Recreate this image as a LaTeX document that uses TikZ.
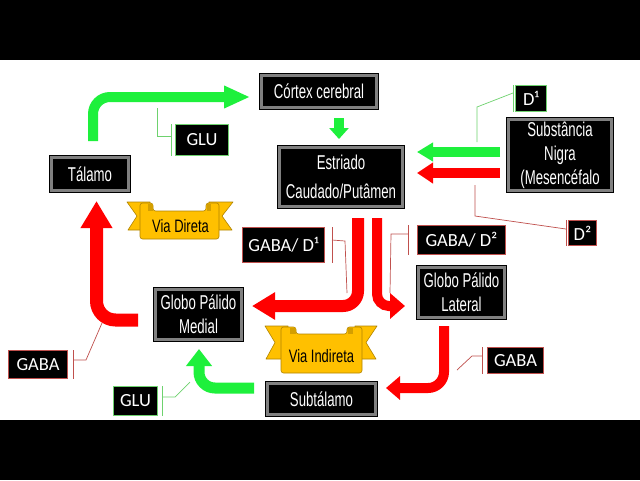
\documentclass[tikz,border=0pt]{standalone}
\usepackage{fontspec}
\usetikzlibrary{arrows.meta,calc}
\newfontfamily\nodefont[FakeStretch=0.66]{Liberation Sans}
\newfontfamily\banfont[FakeStretch=0.72]{Liberation Sans}
\newfontfamily\labfont{Carlito}
\definecolor{gr}{RGB}{30,240,60}
\definecolor{rd}{RGB}{255,0,0}
\definecolor{lgreen}{RGB}{110,210,110}
\definecolor{lred}{RGB}{192,80,77}
\definecolor{gold}{RGB}{255,192,0}
\definecolor{golddk}{RGB}{176,132,0}
\begin{document}
\begin{tikzpicture}[x=1pt,y=-1pt,
  bev/.style={fill=black, draw=black, double=black!50, double distance=3pt,
    line width=0.6pt, text=white, outer sep=2.1pt,
    font=\nodefont\fontsize{20}{24}\selectfont, align=center, inner sep=0pt},
  lab/.style={fill=black, text=white, font=\labfont\fontsize{18.5}{22}\selectfont,
    inner sep=0pt, line width=0.8pt},
  labg/.style={lab, draw=lgreen},
  labr/.style={lab, draw=lred},
  conng/.style={draw=lgreen, line width=0.7pt},
  connr/.style={draw=lred, line width=0.7pt},
  bn/.style={fill=gold, draw=golddk, line width=0.6pt, line join=round},
  bnroll/.style={fill=golddk!55!gold},
  bant/.style={font=\banfont\fontsize{18}{22}\selectfont, text=black, inner sep=0pt},
  garr/.style={draw=gr, line width=#1, line cap=butt},
  rarr/.style={draw=rd, line width=#1, line cap=butt}
]
\useasboundingbox (0,0) rectangle (640,480);
\fill[black] (0,0) rectangle (640,60);
\fill[white] (0,60) rectangle (640,420);
\fill[black] (0,420) rectangle (640,480);

% main nodes
\node[bev, minimum width=115.8pt, minimum height=32.8pt] (ctx) at (319,91.5) {Córtex cerebral};
\node[bev, minimum width=77.8pt, minimum height=33.8pt] (tal) at (90,174) {Tálamo};
\node[bev, minimum width=123.8pt, minimum height=59.8pt] (est) at (341,177) {Estriado\\[5pt]Caudado/Putâmen};
\node[bev, minimum width=103.8pt, minimum height=71.8pt] (sn) at (560,155) {Substância\\Nigra\\(Mesencéfalo};
\node[bev, minimum width=86.8pt, minimum height=50.8pt] (gpm) at (198.5,314.5) {Globo Pálido\\Medial};
\node[bev, minimum width=86.8pt, minimum height=50.8pt] (gpl) at (461.5,292.5) {Globo Pálido\\Lateral};
\node[bev, minimum width=108.8pt, minimum height=31.8pt] (sub) at (321.5,399) {Subtálamo};

% labels
\node[labg, minimum width=53.2pt, minimum height=31.2pt] (glu1) at (202,140) {GLU};
\node[labg, minimum width=31.2pt, minimum height=26.2pt] (d1) at (531,98.5) {D¹};
\node[labr, minimum width=28.2pt, minimum height=25.2pt] (d2) at (582.5,233) {D²};
\node[labr, minimum width=82.2pt, minimum height=35.2pt] (gabad1) at (283.5,245) {GABA/ D¹};
\node[labr, minimum width=88.2pt, minimum height=29.2pt] (gabad2) at (461.5,240) {GABA/ D²};
\node[labr, minimum width=59.2pt, minimum height=28.2pt] (gabal) at (38,364.5) {GABA};
\node[labg, minimum width=44.2pt, minimum height=29.2pt] (glu2) at (135.5,401) {GLU};
\node[labr, minimum width=56.2pt, minimum height=26.2pt] (gabar) at (515.5,360.5) {GABA};

% label connectors (tee + line)
\draw[conng] ([xshift=-4pt]glu1.north west) -- ([xshift=-4pt]glu1.south west);
\coordinate (cg1) at (157,108);
\draw[conng] ([shift={(-4,-4)}]glu1.west) -| (cg1);

\draw[conng] ([xshift=-2pt]d1.north west) -- ([xshift=-2pt]d1.south west);
\draw[conng] ([shift={(-2,-5.5)}]d1.west) -- ++(-36,14) -- ++(0,35);

\draw[connr] ([xshift=-2pt]d2.north west) -- ([xshift=-2pt]d2.south west);
\draw[connr] ([shift={(-2,-4)}]d2.west) -- ++(-91,-13) -- ++(0,-31);

\draw[connr] ([xshift=7pt]gabad1.north east) -- ([xshift=7pt]gabad1.south east);
\draw[connr] ([shift={(7,-5)}]gabad1.east) -- ++(13,1) -- ++(2,52);

\draw[connr] ([xshift=-9pt]gabad2.north west) -- ([xshift=-9pt]gabad2.south west);
\draw[connr] ([shift={(-9,-6)}]gabad2.west) -- ++(-17,0) -- ++(-1,59);

\draw[connr] ([xshift=5pt]gabal.north east) -- ([xshift=5pt]gabal.south east);
\draw[connr] ([shift={(5,-4.5)}]gabal.east) -- ++(13,0) -- ++(16,-37);

\draw[conng] ([xshift=4pt]glu2.north east) -- ([xshift=4pt]glu2.south east);
\draw[conng] ([shift={(4,-4)}]glu2.east) -- ++(13,0) -- ++(15,-15);

\draw[connr] ([xshift=-5pt]gabar.north west) -- ([xshift=-5pt]gabar.south west);
\draw[connr] ([shift={(-5,-4.5)}]gabar.west) -- ++(-10,0) -- ++(-15,14);

% big arrows
\draw[garr=10pt, rounded corners=17pt, -{Triangle[length=26pt,width=21pt]}]
  ([shift={(3,-14)}]tal.north) |- ([shift={(-9,5.5)}]ctx.west);
\draw[garr=10pt, -{Triangle[length=11pt,width=19pt]}]
  ([shift={(20,8)}]ctx.south) -- ([shift={(-2,-6)}]est.north);
\draw[garr=10pt, -{Triangle[length=16pt,width=18pt]}]
  ([shift={(-6,-3)}]sn.west) -- ([shift={(12,-25)}]est.east);
\draw[rarr=10pt, -{Triangle[length=16pt,width=20pt]}]
  ([shift={(-6,18)}]sn.west) -- ([shift={(12,-4)}]est.east);
\draw[rarr=12pt, rounded corners=15pt, -{Triangle[length=23pt,width=26pt]}]
  ([shift={(17,9)}]est.south) |- ([shift={(8,-8.5)}]gpm.east);
\draw[rarr=10pt, rounded corners=12pt, -{Triangle[length=15pt,width=25pt]}]
  ([shift={(36,9)}]est.south) |- ([shift={(-11,13.5)}]gpl.west);
\draw[rarr=13pt, rounded corners=19pt, -{Triangle[length=27pt,width=30pt]}]
  ([shift={(-15,5.5)}]gpm.west) -| ([shift={(6.5,8)}]tal.south);
\draw[rarr=10pt, rounded corners=16pt, -{Triangle[length=14pt,width=23pt]}]
  ([shift={(-17.5,6)}]gpl.south) |- ([shift={(8,-11)}]sub.east);
\draw[garr=11pt, rounded corners=16pt, -{Triangle[length=17pt,width=25pt]}]
  ([shift={(-11,-11)}]sub.west) -| ([shift={(0.5,7)}]gpm.south);

% banner: Via Direta
\draw[bn] (127,202) -- (150,202) -- (150,230) -- (128,230) -- (137,216) -- cycle;
\draw[bn] (233,202) -- (209,202) -- (209,230) -- (232,230) -- (222,216) -- cycle;
\draw[bn, rounded corners=2.5pt] (140,239) -- (140,203) -- (153,203) -- (153,211)
  -- (206,211) -- (206,203) -- (219,203) -- (219,239) -- cycle;
\fill[bnroll] (148,204) rectangle (152.5,210.5);
\fill[bnroll] (206.5,204) rectangle (211,210.5);
\node[bant] (vd) at (180.5,226) {Via Direta};

% banner: Via Indireta
\draw[bn] (265,326) -- (288,326) -- (288,359) -- (266,359) -- (275,342.5) -- cycle;
\draw[bn] (377,326) -- (355,326) -- (355,359) -- (376,359) -- (366,342.5) -- cycle;
\draw[bn, rounded corners=2.5pt] (281,373) -- (281,327) -- (296,327) -- (296,334)
  -- (347,334) -- (347,327) -- (362,327) -- (362,373) -- cycle;
\fill[bnroll] (290,328) rectangle (295.5,333.5);
\fill[bnroll] (347.5,328) rectangle (353,333.5);
\node[bant] (vi) at (321.5,356) {Via Indireta};
\end{tikzpicture}
\end{document}
